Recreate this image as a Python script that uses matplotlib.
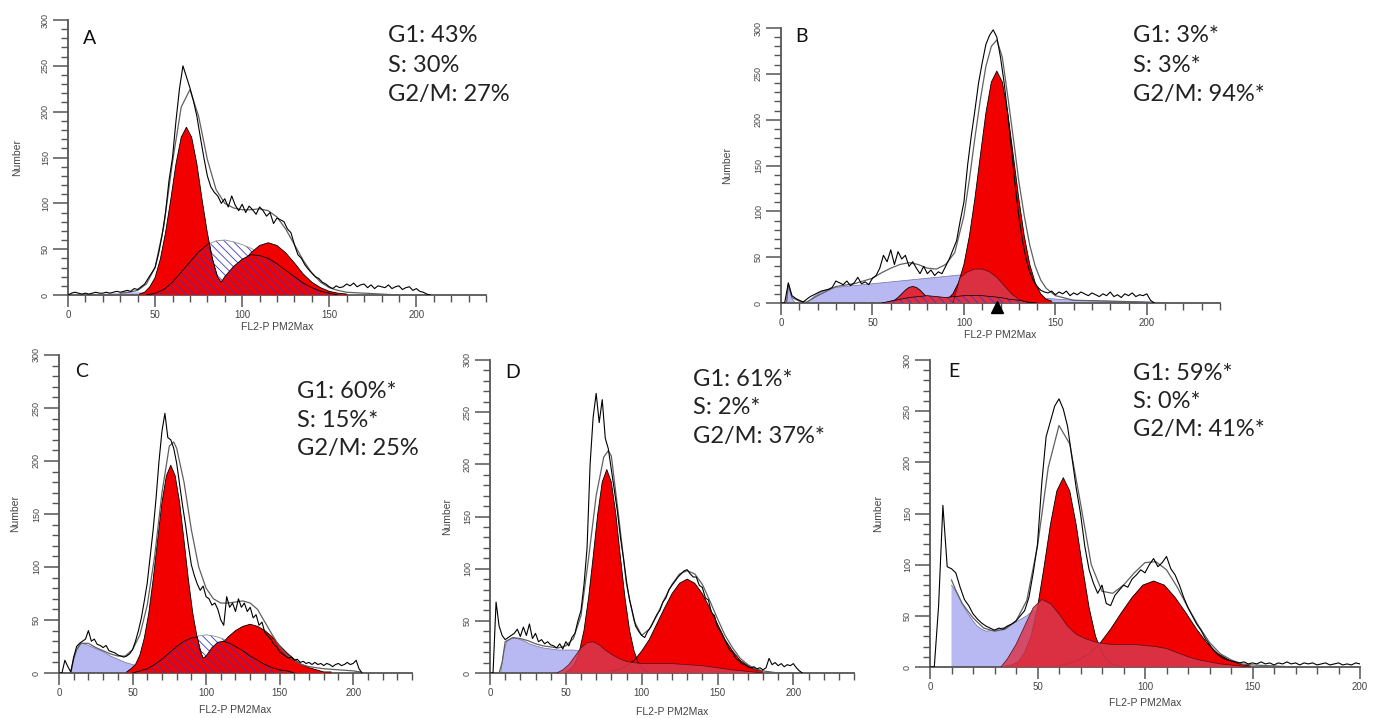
import numpy as np
import matplotlib
matplotlib.use("Agg")
import matplotlib.pyplot as plt
from matplotlib.ticker import MultipleLocator

W, H = 1381, 718

RED = "#f20000"
CRIMSON = "#d8384e"
LAVENDER = "#b8b8f2"
HATCH = "#3a3ac8"

# ---- panel A ----
a_raw = [0, 2, 3, 2, 1, 2, 1, 2, 3, 2,
         2, 3, 2, 3, 4, 3, 4, 5, 4, 7,
         6, 9, 12, 18, 24, 30, 45, 65, 90, 125,
         150, 190, 225, 250, 238, 226, 212, 195, 172, 150,
         130, 118, 112, 108, 100, 105, 96, 108, 98, 92,
         99, 90, 97, 93, 88, 96, 92, 86, 90, 78,
         84, 82, 80, 72, 68, 55, 44, 40, 33, 28,
         24, 20, 18, 14, 12, 9, 7, 10, 8, 9,
         12, 10, 13, 9, 11, 12, 8, 11, 7, 10,
         9, 8, 11, 7, 9, 10, 6, 8, 9, 5,
         7, 4, 3, 1, 0]
a_fit_x = [30, 35, 40, 45, 50, 55, 60, 65, 70, 75, 80, 85, 90, 95, 100, 105, 110,
           115, 120, 125, 130, 135, 140, 145, 150, 155, 160, 170, 180, 190]
a_fit = [2, 3, 5, 12, 30, 75, 145, 205, 224, 195, 148, 115, 100, 95, 93, 93, 94,
         92, 85, 72, 55, 38, 24, 14, 8, 5, 3, 2, 1, 0]
a_debris = [0, 1, 1, 2, 2, 3, 3, 3, 0]                      # x 10..50 step 5
a_g1 = [1, 3, 9, 19, 39, 68, 104, 143, 172, 183, 172, 143, 104, 68, 39, 19, 9, 3, 1]  # x 41..95 step 3
a_g2 = [1, 2, 4, 8, 14, 23, 35, 46, 54, 57, 54, 46, 35, 23, 14, 8, 4, 2, 1]          # x 70..160 step 5
a_s_top = [0, 2, 6, 14, 25, 36, 47, 55, 59, 60, 58, 55, 51, 46, 40, 33, 25, 17, 10, 5, 2, 0]  # x 45..150 step 5
a_s_low_x = [45, 50, 55, 60, 65, 70, 75, 80, 81, 82, 84, 86, 88, 90, 95, 100, 105, 110,
             115, 120, 125, 130, 135, 140, 145, 150, 155]
a_s_low = [0, 2, 6, 14, 25, 36, 47, 55, 57, 47, 31, 19, 14, 20, 31, 39, 44, 43,
           40, 34, 27, 20, 13, 8, 4, 2, 0]

# ---- panel B ----
b_raw = [0, 0, 22, 8, 5, 3, 1, 4, 7, 9,
         11, 13, 14, 15, 17, 24, 22, 20, 24, 19,
         22, 28, 21, 23, 20, 27, 30, 38, 52, 45,
         58, 42, 56, 48, 52, 40, 45, 38, 32, 40,
         32, 36, 30, 34, 32, 40, 48, 58, 68, 90,
         110, 150, 182, 210, 240, 262, 282, 292, 298, 290,
         268, 240, 205, 168, 128, 95, 68, 48, 34, 24,
         18, 14, 12, 11, 13, 9, 12, 10, 13, 8,
         11, 9, 12, 10, 8, 11, 9, 7, 10, 8,
         12, 7, 9, 6, 10, 8, 11, 7, 9, 8,
         10, 3, 0]
b_fit_x = [0, 3, 4, 6, 10, 14, 20, 30, 40, 50, 55, 60, 65, 70, 75, 80, 85, 90, 95, 100,
           103, 106, 109, 112, 115, 118, 121, 124, 127, 130, 133, 136, 139, 142, 145,
           150, 160, 180, 200, 210]
b_fit = [0, 0, 20, 6, 2, 1, 8, 18, 21, 27, 33, 38, 42, 44, 42, 38, 37, 42, 55, 95,
         135, 180, 222, 258, 280, 287, 268, 225, 180, 133, 95, 63, 40, 25, 16,
         8, 3, 2, 1, 0]
b_debris_x = [3, 4, 5, 6, 7, 8, 14, 18, 22, 26, 30, 40, 50, 60, 70, 80, 90, 100,
              110, 115, 125, 135, 145, 160, 180, 200, 210]
b_debris = [0, 22, 12, 5, 2, 0, 0, 7, 12, 15, 17, 19, 21, 23, 25, 27, 29, 31,
            33, 30, 20, 10, 5, 3, 2, 1, 0]
b_g1 = [1, 2, 3, 6, 10, 14, 17, 18, 17, 14, 10, 6, 3, 2, 1]                 # x 58..86 step 2
b_g2 = [2, 4, 10, 22, 42, 73, 114, 161, 207, 241, 253, 241, 207, 161, 114,
        73, 42, 22, 10, 4, 2]                                                 # x 88..148 step 3
b_agg_x = [94, 98, 102, 106, 110, 114, 118, 122, 126, 130, 134, 138]
b_agg = [0, 28, 34, 37, 37, 34, 28, 19, 10, 4, 1, 0]
b_s = [0, 2, 4, 6, 7, 8, 7, 6, 7, 8, 8, 8, 7, 6, 4, 3, 1, 0]               # x 55..140 step 5
b_peak_mark = 118

# ---- panel C ----
c_raw = [0, 0, 12, 6, 1, 15, 25, 28, 30, 32,
         40, 30, 32, 27, 26, 24, 26, 21, 20, 19,
         17, 16, 15, 16, 18, 22, 30, 40, 52, 68,
         85, 110, 135, 165, 200, 228, 245, 222, 220, 212,
         198, 178, 158, 140, 120, 102, 92, 84, 78, 82,
         72, 70, 64, 66, 60, 50, 45, 72, 62, 66,
         58, 70, 62, 66, 58, 62, 52, 55, 45, 48,
         38, 35, 32, 27, 25, 20, 18, 16, 14, 15,
         12, 13, 10, 11, 9, 10, 8, 10, 8, 9,
         7, 9, 8, 6, 8, 9, 7, 8, 10, 8,
         9, 12, 4, 0]
c_fit_x = [0, 8, 10, 12, 15, 20, 25, 30, 35, 40, 45, 50, 55, 60, 65, 70, 75, 78, 80,
           85, 90, 95, 100, 105, 110, 115, 120, 125, 130, 135, 140, 145, 150, 155,
           160, 165, 170, 175, 180, 190, 200, 205, 207]
c_fit = [0, 0, 14, 22, 28, 28, 24, 21, 18, 16, 16, 22, 36, 64, 110, 170, 214, 218, 212,
         180, 135, 100, 80, 70, 66, 66, 67, 68, 66, 60, 48, 36, 25, 17,
         12, 8, 6, 5, 4, 3, 2, 1, 0]
c_debris_x = [8, 10, 12, 14, 16, 20, 25, 30, 35, 40, 45, 50, 55, 60, 70, 80]
c_debris = [0, 12, 22, 27, 28, 26, 23, 20, 16, 13, 10, 8, 6, 4, 2, 0]
c_g1 = [1, 4, 8, 17, 33, 56, 88, 125, 161, 186, 196, 186, 161, 125, 88, 56, 33, 17, 8, 4, 1]  # x 46..106 step 3
c_g2 = [1, 1, 3, 5, 8, 13, 19, 26, 34, 40, 44, 46, 44, 40, 34, 26, 19, 13, 8, 5, 3, 1, 1]   # x 75..185 step 5
c_s_top = [0, 2, 4, 8, 13, 19, 25, 30, 33, 35, 36, 35, 33, 30, 26, 21, 16, 12, 8, 5, 3, 2, 0]  # x 50..160 step 5
c_s_low_x = [50, 55, 60, 65, 70, 75, 80, 85, 90, 94, 96, 98, 100, 104, 108, 112, 116,
             120, 125, 130, 135, 140, 145, 150, 155, 160]
c_s_low = [0, 2, 4, 8, 13, 19, 25, 30, 33, 34, 21, 14, 16, 24, 29, 30, 28,
           25, 21, 16, 12, 8, 5, 3, 2, 0]

# ---- panel D ----
d_raw = [0, 0, 68, 45, 36, 32, 34, 36, 38, 42,
         35, 44, 36, 47, 33, 38, 30, 32, 28, 30,
         27, 26, 24, 28, 23, 30, 26, 34, 38, 50,
         60, 85, 120, 200, 245, 268, 240, 262, 225, 215,
         195, 175, 155, 130, 110, 88, 70, 58, 45, 40,
         36, 34, 40, 44, 50, 56, 60, 68, 72, 80,
         84, 88, 92, 95, 98, 99, 95, 92, 92, 84,
         82, 72, 70, 58, 55, 44, 40, 34, 28, 22,
         20, 14, 12, 9, 8, 6, 5, 6, 4, 5,
         3, 5, 14, 8, 10, 7, 9, 6, 8, 7,
         9, 5, 2, 0]
d_fit_x = [0, 6, 8, 10, 15, 20, 25, 30, 35, 40, 45, 50, 55, 60, 65, 70, 75, 78, 80, 85,
           90, 95, 100, 105, 110, 115, 120, 125, 130, 135, 140, 145, 150, 155, 160,
           165, 170, 175, 180, 185, 190, 200]
d_fit = [0, 0, 10, 30, 34, 33, 31, 28, 26, 25, 24, 26, 33, 55, 110, 170, 207, 213, 208, 148,
         85, 50, 36, 42, 55, 71, 85, 95, 98, 95, 85, 69, 52, 36, 24,
         14, 8, 4, 2, 1, 0, 0]
d_debris_x = [7, 9, 11, 14, 18, 22, 26, 30, 35, 40, 45, 50, 55, 60, 65, 70, 80, 90]
d_debris = [0, 20, 30, 33, 33, 31, 28, 26, 24, 23, 22, 22, 22, 21, 15, 8, 2, 0]
d_s_x = [44, 48, 52, 56, 60, 64, 68, 72, 76, 80, 85, 90, 95, 100, 110, 120, 130,
         140, 150, 160, 170, 180]
d_s = [0, 3, 8, 16, 24, 29, 30, 27, 22, 18, 14, 11, 10, 9, 9, 9, 8,
       7, 5, 3, 1.5, 0]
d_g1 = [1, 4, 9, 21, 41, 72, 111, 152, 183, 195, 183, 152, 111, 72, 41, 21, 9, 4, 1]   # x 50..104 step 3
d_g2 = [2, 3, 7, 12, 21, 32, 47, 62, 76, 86, 90, 86, 76, 62, 47, 32, 21, 12, 7, 3, 2]  # x 80..180 step 5

# ---- panel E ----
e_raw = [0, 0, 60, 158, 98, 96, 92, 78, 66, 60,
         52, 47, 43, 40, 38, 36, 38, 37, 40, 42,
         45, 50, 55, 68, 92, 120, 180, 225, 240, 255,
         262, 252, 235, 205, 175, 150, 118, 95, 82, 72,
         80, 62, 60, 70, 75, 80, 78, 86, 90, 95,
         92, 100, 106, 98, 102, 108, 96, 90, 80, 68,
         58, 50, 42, 36, 28, 22, 16, 12, 9, 7,
         6, 5, 4, 5, 3, 4, 3, 5, 3, 4,
         2, 4, 3, 5, 3, 4, 2, 4, 3, 4,
         2, 3, 4, 2, 3, 4, 2, 3, 2, 4,
         3]
e_fit_x = [10, 12, 15, 20, 25, 30, 35, 40, 45, 50, 55, 60, 65, 70, 75, 80, 85, 90, 95,
           100, 105, 110, 115, 120, 125, 130, 135, 140, 145, 150, 160, 170]
e_fit = [85, 75, 62, 48, 38, 35, 37, 45, 65, 118, 195, 236, 218, 160, 100, 74, 72, 80, 92,
         102, 103, 95, 78, 58, 40, 24, 13, 7, 3, 2, 1, 0]
e_debris_x = [10, 12, 14, 16, 18, 20, 22, 24, 26, 30, 35, 40, 45, 48, 50, 52]
e_debris = [80, 74, 66, 58, 51, 45, 40, 37, 35, 36, 39, 44, 50, 55, 52, 0]
e_s_x = [33, 36, 40, 44, 48, 52, 56, 60, 64, 68, 72, 76, 80, 85, 90, 95, 100, 105,
         110, 115, 120, 125, 130, 135, 140, 148]
e_s = [0, 8, 22, 40, 58, 66, 62, 52, 40, 32, 28, 25, 23, 22, 22, 22, 21, 20,
       18, 14, 10, 7, 5, 3, 2, 0]
e_g1 = [1, 2, 5, 14, 30, 58, 97, 139, 172, 185, 172, 139, 97, 58, 30, 14, 5, 2, 1]   # x 35..89 step 3
e_g2 = [1, 3, 7, 13, 23, 37, 53, 68, 80, 84, 80, 68, 53, 37, 23, 13, 7, 3, 1]        # x 59..149 step 5

stats = {
    "A": ["G1: 43%", "S: 30%", "G2/M: 27%"],
    "B": ["G1: 3%*", "S: 3%*", "G2/M: 94%*"],
    "C": ["G1: 60%*", "S: 15%*", "G2/M: 25%"],
    "D": ["G1: 61%*", "S: 2%*", "G2/M: 37%*"],
    "E": ["G1: 59%*", "S: 0%*", "G2/M: 41%*"],
}


def steps(start, step, vals):
    return start + step * np.arange(len(vals))


def make_axes(fig, x0, x1, y0, y1, xmax):
    ax = fig.add_axes([x0 / W, 1 - y0 / H, (x1 - x0) / W, (y0 - y1) / H])
    ax.set_xlim(0, xmax)
    ax.set_ylim(0, 300)
    for s in ["top", "right"]:
        ax.spines[s].set_visible(False)
    for s in ["left", "bottom"]:
        ax.spines[s].set_color("#555555")
        ax.spines[s].set_linewidth(1.3)
    ax.xaxis.set_major_locator(MultipleLocator(50))
    ax.xaxis.set_minor_locator(MultipleLocator(10))
    ax.yaxis.set_major_locator(MultipleLocator(50))
    ax.yaxis.set_minor_locator(MultipleLocator(10))
    ax.tick_params(axis="x", which="major", length=8.5, width=1.1, color="#555555",
                   labelsize=7, labelcolor="#444444", pad=2)
    ax.tick_params(axis="x", which="minor", length=5, width=1.0, color="#555555")
    ax.tick_params(axis="y", which="major", length=11, width=1.1, color="#555555",
                   labelsize=6.5, labelcolor="#444444", pad=2)
    ax.tick_params(axis="y", which="minor", length=5, width=1.0, color="#555555")
    for lab in ax.get_yticklabels():
        lab.set_rotation(90)
        lab.set_va("center")
    ax.patch.set_alpha(0)
    return ax


def area(ax, x, y, face, alpha=1.0, hatch=None, z=2, edge="black", elw=0.6):
    ax.fill_between(x, 0, y, facecolor=face, alpha=alpha, hatch=hatch,
                    edgecolor=HATCH if hatch else "none", linewidth=0, zorder=z)
    if edge:
        ax.plot(x, y, color=edge, lw=elw, zorder=z + 0.5)


def traces(ax, raw, fit_x, fit):
    ax.plot(fit_x, fit, color="#606060", lw=0.9, zorder=8)
    ax.plot(steps(0, 2, raw), raw, color="black", lw=0.8, zorder=9)


plt.rcParams["font.family"] = ["Liberation Sans", "DejaVu Sans"]
plt.rcParams["hatch.linewidth"] = 0.6
HATCH_PAT = "\\\\\\\\"

fig = plt.figure(figsize=(W / 100, H / 100), dpi=100)
fig.patch.set_facecolor("white")

# axes frames in pixels: (left, right, bottom, top, x max)
frames = {
    "A": (68, 486, 295, 20, 240),
    "B": (781, 1220, 303, 28, 240),
    "C": (59, 412, 673, 355, 240),
    "D": (490, 854, 673, 360, 240),
    "E": (930, 1360, 667, 360, 200),
}
axes = {k: make_axes(fig, *v) for k, v in frames.items()}

# A
ax = axes["A"]
area(ax, steps(10, 5, a_debris), a_debris, LAVENDER, z=1, edge=None)
area(ax, steps(45, 5, a_s_top), a_s_top, "white", hatch=HATCH_PAT, z=2, edge="#909090")
area(ax, steps(41, 3, a_g1), a_g1, RED, z=3)
area(ax, steps(70, 5, a_g2), a_g2, RED, z=3)
area(ax, a_s_low_x, a_s_low, RED, hatch=HATCH_PAT, z=4)
traces(ax, a_raw, a_fit_x, a_fit)

# B
ax = axes["B"]
area(ax, b_debris_x, b_debris, LAVENDER, z=1, edge="#7070a0", elw=0.5)
area(ax, steps(58, 2, b_g1), b_g1, "#e02a3c", z=3)
area(ax, steps(88, 3, b_g2), b_g2, RED, z=3)
area(ax, b_agg_x, b_agg, CRIMSON, alpha=0.85, z=4, edge="#501018", elw=0.5)
area(ax, steps(55, 5, b_s), b_s, "#e23040", hatch=HATCH_PAT, z=4, elw=0.5)
traces(ax, b_raw, b_fit_x, b_fit)
ax.plot(b_peak_mark, -4, marker="^", ms=8, color="black", clip_on=False, zorder=10)

# C
ax = axes["C"]
area(ax, c_debris_x, c_debris, LAVENDER, z=1, edge="#7070a0", elw=0.5)
area(ax, steps(50, 5, c_s_top), c_s_top, "white", hatch=HATCH_PAT, z=2, edge="#909090")
area(ax, steps(46, 3, c_g1), c_g1, RED, z=3)
area(ax, steps(75, 5, c_g2), c_g2, RED, z=3)
area(ax, c_s_low_x, c_s_low, RED, hatch=HATCH_PAT, z=4)
traces(ax, c_raw, c_fit_x, c_fit)

# D
ax = axes["D"]
area(ax, d_debris_x, d_debris, LAVENDER, z=1, edge="#7070a0", elw=0.5)
area(ax, steps(50, 3, d_g1), d_g1, RED, z=3)
area(ax, steps(80, 5, d_g2), d_g2, RED, z=3)
area(ax, d_s_x, d_s, CRIMSON, alpha=0.85, z=4, edge="#501018", elw=0.5)
traces(ax, d_raw, d_fit_x, d_fit)

# E
ax = axes["E"]
area(ax, e_debris_x, e_debris, LAVENDER, z=1, edge="#7070a0", elw=0.5)
area(ax, steps(35, 3, e_g1), e_g1, RED, z=3)
area(ax, steps(59, 5, e_g2), e_g2, RED, z=3)
area(ax, e_s_x, e_s, CRIMSON, alpha=0.85, z=4, edge="#501018", elw=0.5)
traces(ax, e_raw, e_fit_x, e_fit)

# axis titles, centred on each frame
xlab_y = {"A": 327, "B": 335, "C": 710, "D": 712, "E": 703}
ylab_x = {"A": 17, "B": 727, "C": 15, "D": 447, "E": 878}
for key, (x0, x1, y0, y1, _) in frames.items():
    fig.text((x0 + x1) / 2 / W, 1 - xlab_y[key] / H, "FL2-P PM2Max", fontsize=7.5,
             color="#444444", ha="center", va="center")
    fig.text(ylab_x[key] / W, 1 - (y0 + y1) / 2 / H, "Number", fontsize=7.5,
             color="#444444", ha="center", va="center", rotation=90,
             family=["Liberation Sans Narrow", "Liberation Sans", "DejaVu Sans"])

letter_pos = {"A": (83, 38), "B": (795, 37), "C": (75, 372), "D": (505, 373), "E": (948, 372)}
stat_pos = {"A": (388, [36, 65, 94]), "B": (1133, [36, 65, 94]),
            "C": (297, [392, 420, 449]), "D": (693, [380, 408, 437]),
            "E": (1133, [373, 402, 430])}
for key, (xx, yy) in letter_pos.items():
    fig.text(xx / W, 1 - yy / H, key, fontsize=14, color="#111111",
             ha="left", va="center", family=["Lato", "DejaVu Sans"])
for key, (xx, rows) in stat_pos.items():
    for line, yy in zip(stats[key], rows):
        fig.text(xx / W, 1 - yy / H, line, fontsize=17, color="#222222",
                 ha="left", va="center", family=["Lato", "DejaVu Sans"])

fig.savefig("out.png", dpi=100, facecolor="white")
